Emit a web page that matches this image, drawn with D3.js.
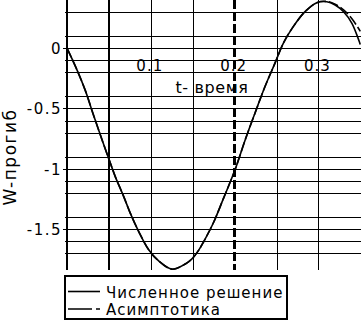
<!DOCTYPE html>
<html>
<head>
<meta charset="utf-8">
<script src="https://cdn.jsdelivr.net/npm/d3@7"></script>
<style>
    body { margin: 0; background: #fff; }
    svg { display: block; font-family: "DejaVu Sans", sans-serif; }
</style>
</head>
<body>
<svg id="chart"></svg>
<script>
// values
var tNumeric = [0, 0.0119, 0.0218, 0.0319, 0.0418, 0.0517, 0.0576, 0.0677, 0.0755, 0.0856, 0.0975, 0.1094, 0.1253, 0.1412, 0.1488, 0.1572, 0.1627, 0.1746, 0.1865, 0.2005, 0.2124, 0.2243, 0.2363, 0.2482, 0.2581, 0.27, 0.284, 0.298, 0.31, 0.32, 0.33, 0.34, 0.35];
var wNumeric = [0, -0.18, -0.35, -0.56, -0.76, -0.953, -1.065, -1.231, -1.368, -1.521, -1.672, -1.765, -1.833, -1.79, -1.75, -1.675, -1.61, -1.45, -1.25, -1.009, -0.765, -0.539, -0.318, -0.124, 0.041, 0.179, 0.303, 0.378, 0.386, 0.359, 0.303, 0.207, 0.03];
var tAsymptotic = [0, 0.0119, 0.0218, 0.0319, 0.0418, 0.0517, 0.0576, 0.0677, 0.0755, 0.0856, 0.0975, 0.1094, 0.1253, 0.1412, 0.1488, 0.1572, 0.1627, 0.1746, 0.1865, 0.2005, 0.2124, 0.2243, 0.2363, 0.2482, 0.2581, 0.27, 0.284, 0.298, 0.31, 0.32, 0.33, 0.34, 0.35];
var wAsymptotic = [0, -0.18, -0.35, -0.56, -0.76, -0.953, -1.065, -1.231, -1.368, -1.521, -1.672, -1.765, -1.833, -1.79, -1.75, -1.675, -1.61, -1.45, -1.25, -1.009, -0.765, -0.539, -0.318, -0.124, 0.041, 0.179, 0.303, 0.378, 0.388, 0.365, 0.318, 0.245, 0.14];

var xTicks = [0.1, 0.2, 0.3];
var xTickLabels = ["0.1", "0.2", "0.3"];
var yTicks = [0, -0.5, -1, -1.5];
var yTickLabels = ["0", "-0.5", "-1", "-1.5"];
var xGrid = [0.1, 0.15, 0.25, 0.3];
var yGrid = [0.3, 0.1, 0, -0.1, -0.2, -0.4, -0.5, -0.6, -0.7, -0.9, -1, -1.1, -1.2, -1.4, -1.5, -1.6, -1.7];
var solidMarker = 0.05;
var dashedMarker = 0.2;
var seriesNames = ["Численное решение", "Асимптотика"];

var width = 361, height = 322;
var plot = { left: 67, right: 360.3, top: 0, bottom: 270 };

var svg = d3.select("#chart").attr("width", width).attr("height", height);

var xScale = d3.scaleLinear().domain([0, 0.35]).range([plot.left, plot.right]);
var yScale = d3.scaleLinear().domain([0.4, -1.84]).range([plot.top, plot.bottom]);

drawGrid();
drawMarkers();
drawTickLabels();
drawCurves();
drawAxisTitles();
drawLegend();

function drawGrid(){
    svg.append("g")
        .selectAll("line")
        .data(yGrid)
        .enter()
        .append("line")
        .attr("x1", function(d){ return yTicks.indexOf(d) >= 0 ? plot.left - 4 : plot.left - 2; })
        .attr("x2", width)
        .attr("y1", function(d){ return Math.round(yScale(d)) + 0.5; })
        .attr("y2", function(d){ return Math.round(yScale(d)) + 0.5; })
        .attr("stroke", "#000")
        .attr("stroke-width", 1)
        .attr("shape-rendering", "crispEdges");

    svg.append("g")
        .selectAll("line")
        .data(xGrid)
        .enter()
        .append("line")
        .attr("x1", function(d){ return Math.round(xScale(d)) + 0.5; })
        .attr("x2", function(d){ return Math.round(xScale(d)) + 0.5; })
        .attr("y1", plot.top)
        .attr("y2", plot.bottom)
        .attr("stroke", "#000")
        .attr("stroke-width", 1)
        .attr("shape-rendering", "crispEdges");

    // y axis
    svg.append("line")
        .attr("x1", xScale(0)).attr("x2", xScale(0))
        .attr("y1", plot.top).attr("y2", plot.bottom)
        .attr("stroke", "#000")
        .attr("stroke-width", 2.5)
        .attr("shape-rendering", "crispEdges");
}

function drawMarkers(){
    svg.append("line")
        .attr("x1", xScale(solidMarker)).attr("x2", xScale(solidMarker))
        .attr("y1", plot.top).attr("y2", plot.bottom)
        .attr("stroke", "#000")
        .attr("stroke-width", 2.5)
        .attr("shape-rendering", "crispEdges");
    svg.append("line")
        .attr("x1", xScale(dashedMarker)).attr("x2", xScale(dashedMarker))
        .attr("y1", plot.top).attr("y2", plot.bottom)
        .attr("stroke", "#000")
        .attr("stroke-width", 2.5)
        .attr("stroke-dasharray", "9,3")
        .attr("shape-rendering", "crispEdges");
}

function drawTickLabels(){
    svg.append("g")
        .selectAll("text")
        .data(xTicks)
        .enter()
        .append("text")
        .attr("x", function(d){ return xScale(d) - 1; })
        .attr("y", 71)
        .attr("text-anchor", "middle")
        .attr("font-size", 15)
        .attr("letter-spacing", 1)
        .text(function(d, i){ return xTickLabels[i]; });

    svg.append("g")
        .selectAll("text")
        .data(yTicks)
        .enter()
        .append("text")
        .attr("x", 62)
        .attr("y", function(d){ return yScale(d) + 6; })
        .attr("text-anchor", "end")
        .attr("font-size", 15)
        .attr("letter-spacing", 1.5)
        .text(function(d, i){ return yTickLabels[i]; });
}

function drawCurves(){
    var line = d3.line()
        .x(function(d){ return xScale(d[0]); })
        .y(function(d){ return yScale(d[1]); })
        .curve(d3.curveCatmullRom);

    svg.append("path")
        .datum(d3.zip(tNumeric, wNumeric))
        .attr("d", line)
        .attr("fill", "none")
        .attr("stroke", "#000")
        .attr("stroke-width", 1.6);
    svg.append("path")
        .datum(d3.zip(tAsymptotic, wAsymptotic))
        .attr("d", line)
        .attr("fill", "none")
        .attr("stroke", "#000")
        .attr("stroke-width", 1.6)
        .attr("stroke-dasharray", "10,3");
}

function drawAxisTitles(){
    svg.append("text")
        .attr("x", 212)
        .attr("y", 93)
        .attr("text-anchor", "middle")
        .attr("font-size", 16)
        .attr("letter-spacing", 0.6)
        .text("t- время");

    svg.append("text")
        .attr("transform", "translate(16,157) rotate(-90)")
        .attr("text-anchor", "middle")
        .attr("font-size", 17)
        .attr("letter-spacing", 1.5)
        .text("W-прогиб");
}

function drawLegend(){
    var legend = svg.append("g");
    legend.append("rect")
        .attr("x", 65).attr("y", 276)
        .attr("width", 222).attr("height", 43)
        .attr("fill", "#fff")
        .attr("stroke", "#000")
        .attr("stroke-width", 2)
        .attr("shape-rendering", "crispEdges");

    var rows = legend.selectAll("g.row")
        .data(seriesNames)
        .enter()
        .append("g")
        .attr("class", "row")
        .attr("transform", function(d, i){ return `translate(0, ${i * 17.5})`; });
    rows.append("line")
        .attr("x1", 68).attr("x2", 100)
        .attr("y1", 291.5).attr("y2", 291.5)
        .attr("stroke", "#000")
        .attr("stroke-width", 1.6)
        .attr("stroke-dasharray", function(d, i){ return i === 1 ? "24,4,4,4" : null; });
    rows.append("text")
        .attr("x", 106)
        .attr("y", 297.5)
        .attr("font-size", 15)
        .attr("letter-spacing", 1)
        .text(function(d){ return d; });
}
</script>
</body>
</html>
